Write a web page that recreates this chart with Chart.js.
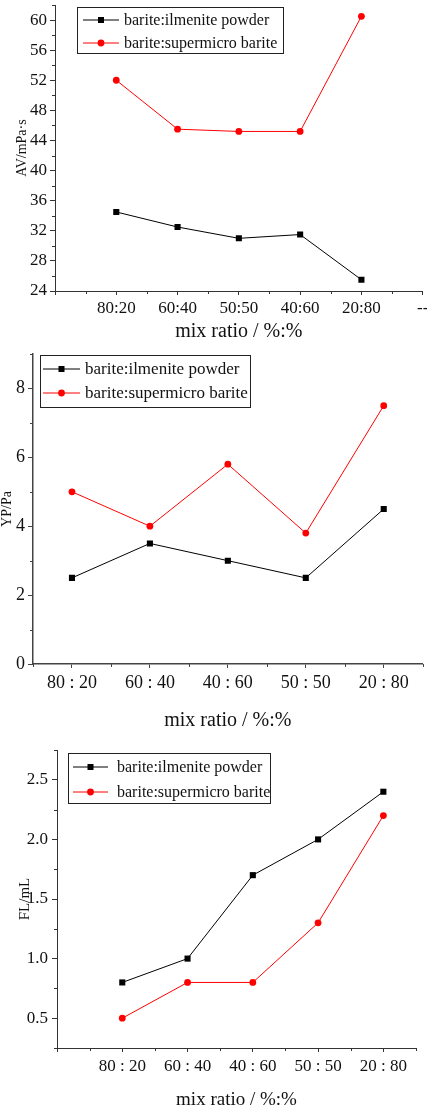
<!DOCTYPE html>
<html>
<head>
<meta charset="utf-8">
<script src="https://cdn.jsdelivr.net/npm/chart.js@4.4.1/dist/chart.umd.min.js"></script>
<style>
body{margin:0;background:#fff;width:427px;height:1113px;overflow:hidden;position:relative}
.panel{position:absolute;left:0;width:427px}
</style>
</head>
<body>
<div class="panel" style="top:0;height:345px"><canvas id="c1"></canvas></div>
<div class="panel" style="top:345px;height:390px"><canvas id="c2"></canvas></div>
<div class="panel" style="top:735px;height:378px"><canvas id="c3"></canvas></div>
<script>
const seriesNames = ['barite:ilmenite powder', 'barite:supermicro barite'];
const xTitle = 'mix ratio / %:%';

// AV panel
const ratiosAV = ['80:20', '60:40', '50:50', '40:60', '20:80'];
const avIlmenite = [34.5, 32.5, 31, 31.5, 25.5];
const avSupermicro = [52, 45.5, 45.2, 45.2, 60.5];
const avTicks = [24, 28, 32, 36, 40, 44, 48, 52, 56, 60];

// YP panel
const ratiosYP = ['80 : 20', '60 : 40', '40 : 60', '50 : 50', '20 : 80'];
const ypIlmenite = [2.5, 3.5, 3, 2.5, 4.5];
const ypSupermicro = [5, 4, 5.8, 3.8, 7.5];
const ypTicks = [0, 2, 4, 6, 8];

// FL panel
const ratiosFL = ['80 : 20', '60 : 40', '40 : 60', '50 : 50', '20 : 80'];
const flIlmenite = [0.8, 1.0, 1.7, 2.0, 2.4];
const flSupermicro = [0.5, 0.8, 0.8, 1.3, 2.2];
const flTicks = [0.5, 1.0, 1.5, 2.0, 2.5];

const serif = '"Liberation Serif", "Times New Roman", serif';

// legend with a box around it, drawn from the datasets
const boxLegend = {
  id: 'boxLegend',
  afterDraw(chart, args, o) {
    const ctx = chart.ctx;
    ctx.save();
    ctx.strokeStyle = '#222';
    ctx.lineWidth = 1;
    ctx.strokeRect(o.x + 0.5, o.y + 0.5, o.w, o.h);
    ctx.font = o.size + 'px ' + serif;
    ctx.textBaseline = 'middle';
    chart.data.datasets.forEach((ds, i) => {
      const y = o.rows[i];
      const mx = (o.x0 + o.x1) / 2;
      ctx.strokeStyle = ds.borderColor;
      ctx.fillStyle = ds.backgroundColor;
      ctx.lineWidth = 1;
      ctx.beginPath();
      ctx.moveTo(o.x0, y);
      ctx.lineTo(o.x1, y);
      ctx.stroke();
      ctx.beginPath();
      if (ds.pointStyle === 'rect') {
        ctx.rect(mx - 3, y - 3, 6, 6);
      } else {
        ctx.arc(mx, y, 3.4, 0, Math.PI * 2);
      }
      ctx.fill();
      ctx.fillStyle = '#111';
      ctx.fillText(ds.label, o.textX, y + 1);
    });
    ctx.restore();
  }
};

// small ticks halfway between the labelled ones
const minorTicks = {
  id: 'minorTicks',
  afterDraw(chart, args, o) {
    const ctx = chart.ctx;
    const area = chart.chartArea;
    ctx.save();
    ctx.strokeStyle = o.color;
    ctx.lineWidth = 1;
    ['x', 'y'].forEach(id => {
      const s = chart.scales[id];
      const vals = s.ticks.map(t => t.value);
      const step = vals[1] - vals[0];
      const mids = [vals[0] - step / 2];
      vals.forEach(v => mids.push(v + step / 2));
      mids.forEach(v => {
        if (v < s.min - 1e-9 || v > s.max + 1e-9) return;
        const p = Math.round(s.getPixelForValue(v)) + 0.5;
        ctx.beginPath();
        if (id === 'x') {
          ctx.moveTo(p, area.bottom);
          ctx.lineTo(p, area.bottom + 3);
        } else {
          ctx.moveTo(area.left - 3, p);
          ctx.lineTo(area.left, p);
        }
        ctx.stroke();
      });
    });
    ctx.restore();
  }
};

function makeChart(id, p) {
  const toPts = vals => vals.map((v, i) => ({ x: i, y: v }));
  const axisColor = p.axisColor;
  return new Chart(document.getElementById(id), {
    type: 'line',
    data: {
      datasets: [
        {
          label: seriesNames[0],
          data: toPts(p.ilm),
          borderColor: '#000',
          backgroundColor: '#000',
          borderWidth: 1,
          pointStyle: 'rect',
          pointRadius: 4.3,
          pointBorderWidth: 0,
          tension: 0
        },
        {
          label: seriesNames[1],
          data: toPts(p.sup),
          borderColor: '#ff0000',
          backgroundColor: '#ff0000',
          borderWidth: 1,
          pointStyle: 'circle',
          pointRadius: 3.4,
          pointBorderWidth: 0,
          tension: 0
        }
      ]
    },
    options: {
      responsive: true,
      maintainAspectRatio: false,
      animation: false,
      layout: { padding: p.pad },
      scales: {
        x: {
          type: 'linear',
          min: p.xMin,
          max: p.xMax,
          afterBuildTicks: s => {
            const t = [];
            for (let v = Math.ceil(p.xMin); v <= Math.floor(p.xMax); v++) t.push({ value: v });
            s.ticks = t;
          },
          afterFit: s => { s.height = p.xH; s.paddingLeft = 0; s.paddingRight = 0; },
          ticks: {
            autoSkip: false,
            maxRotation: 0,
            padding: p.xPad,
            color: '#111',
            font: { family: serif, size: p.xFont },
            callback: v => (v >= 0 && v < p.cats.length) ? p.cats[v] : (v === p.cats.length && p.extra ? p.extra : '')
          },
          grid: { drawOnChartArea: false, drawTicks: true, tickLength: 4, color: axisColor },
          border: { display: true, color: axisColor, width: p.axisW },
          title: {
            display: true,
            text: xTitle,
            color: '#111',
            font: { family: serif, size: p.xTitleFont },
            padding: { top: 0, bottom: p.xTitlePad }
          }
        },
        y: {
          min: p.yMin,
          max: p.yMax,
          afterBuildTicks: s => { s.ticks = p.yTicks.map(v => ({ value: v })); },
          afterFit: s => { s.width = p.yW; s.paddingTop = 0; s.paddingBottom = 0; },
          ticks: {
            padding: p.yPad,
            color: '#111',
            font: { family: serif, size: p.yFont },
            callback: v => p.yFmt ? v.toFixed(p.yFmt) : String(v)
          },
          grid: { drawOnChartArea: false, drawTicks: true, tickLength: 5, color: axisColor },
          border: { display: true, color: axisColor, width: p.axisW },
          title: {
            display: true,
            text: p.yTitle,
            color: '#111',
            font: { family: serif, size: p.yTitleFont },
            padding: { top: p.yTitlePad, bottom: 0 }
          }
        }
      },
      plugins: {
        legend: { display: false },
        tooltip: { enabled: false },
        boxLegend: p.legend,
        minorTicks: { color: axisColor }
      }
    },
    plugins: [boxLegend, minorTicks]
  });
}

makeChart('c1', {
  cats: ratiosAV, extra: '--', ilm: avIlmenite, sup: avSupermicro,
  xMin: -1, xMax: 5, yMin: 24, yMax: 62, yTicks: avTicks, yFmt: 0,
  yTitle: 'AV/mPa\u00b7s',
  pad: { top: 5, right: 2, bottom: 0, left: 0 },
  yW: 55, xH: 54, axisColor: '#333', axisW: 1,
  xFont: 17, xPad: 3, xTitleFont: 20, xTitlePad: 1,
  yFont: 17, yPad: 3, yTitleFont: 14, yTitlePad: 14,
  legend: { x: 77, y: 7, w: 206, h: 46, rows: [20, 43], x0: 83, x1: 119, textX: 124, size: 16 }
});

makeChart('c2', {
  cats: ratiosYP, ilm: ypIlmenite, sup: ypSupermicro,
  xMin: -0.5, xMax: 4.5, yMin: 0, yMax: 9, yTicks: ypTicks, yFmt: 0,
  yTitle: 'YP/Pa',
  pad: { top: 9, right: 2, bottom: 0, left: 0 },
  yW: 33, xH: 71, axisColor: '#444', axisW: 1.5,
  xFont: 18, xPad: 4, xTitleFont: 20, xTitlePad: 2,
  yFont: 18, yPad: 3, yTitleFont: 14, yTitlePad: -1,
  legend: { x: 40, y: 10, w: 210, h: 52, rows: [24, 48], x0: 43, x1: 80, textX: 85, size: 17 }
});

makeChart('c3', {
  cats: ratiosFL, ilm: flIlmenite, sup: flSupermicro,
  xMin: -1, xMax: 4.5, yMin: 0.25, yMax: 2.75, yTicks: flTicks, yFmt: 1,
  yTitle: 'FL/mL',
  pad: { top: 15, right: 11, bottom: 0, left: 0 },
  yW: 57, xH: 65, axisColor: '#333', axisW: 1,
  xFont: 17, xPad: 4, xTitleFont: 19, xTitlePad: 2,
  yFont: 17, yPad: 4, yTitleFont: 15, yTitlePad: 16,
  legend: { x: 68, y: 18, w: 202, h: 50, rows: [32, 57], x0: 73, x1: 108, textX: 117, size: 16 }
});
</script>
</body>
</html>
